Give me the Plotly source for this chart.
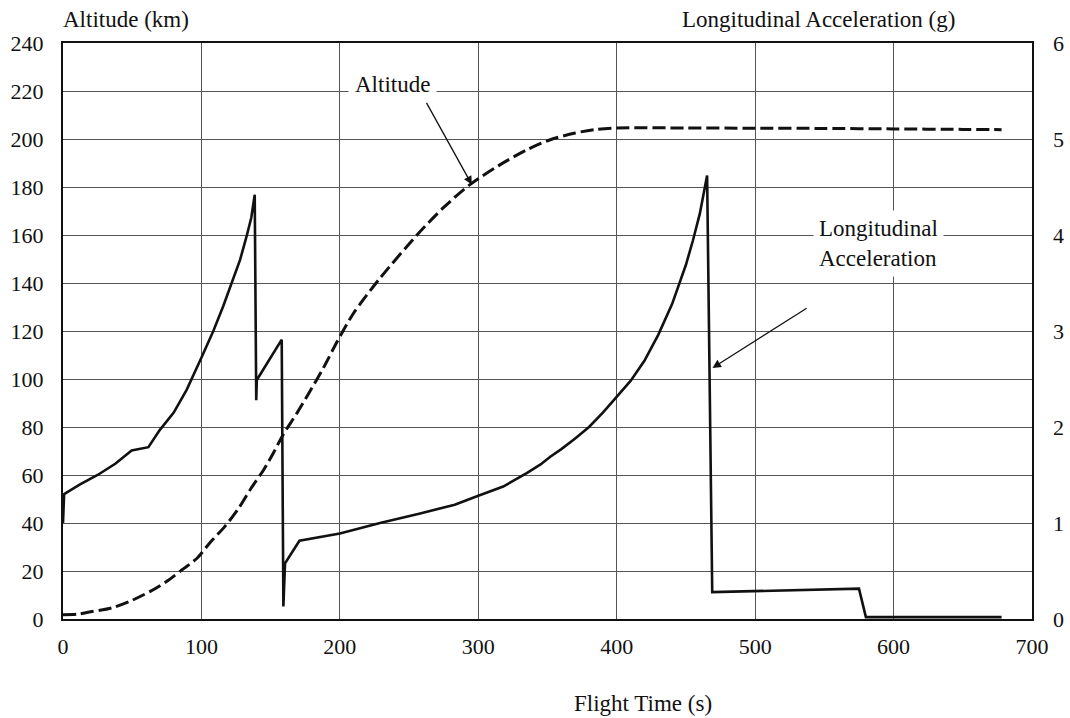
import plotly.graph_objects as go

# Altitude (km) vs flight time (s)
alt_t = [0, 10, 20, 35, 48, 63, 75, 86, 97, 106, 117, 127, 136, 145, 152, 159, 169, 178,
         188, 198, 210, 229, 257, 275, 294, 315, 335, 352, 370, 385, 400, 450, 500, 550,
         600, 650, 678]
alt_km = [1.8, 2.0, 3.0, 4.6, 7.3, 11.5, 15.7, 20.5, 25.4, 31.7, 38.6, 46.2, 54.6, 62.2,
          69.2, 76.8, 85.8, 94.5, 104.5, 115.5, 127.5, 142.0, 160.8, 171.5, 181.0, 189.0,
          195.5, 199.7, 202.5, 204.0, 204.6, 204.6, 204.5, 204.4, 204.2, 204.0, 203.9]

# Longitudinal acceleration (g) vs flight time (s)
acc_t = [0, 0.8, 12, 25, 38, 49.6, 61.7, 70, 80, 89.4, 100.2, 108.6, 115.8, 121.9, 127.9,
         132.7, 136, 138.5, 139.6, 140, 158, 159.2, 160.4, 170.8, 200, 229, 258, 283, 300,
         318, 335, 345, 352, 360, 370, 380, 390, 400, 410, 420, 430, 440, 446, 450, 455,
         460, 465.3, 469, 575, 580, 678]
acc_g = [1.0, 1.3, 1.40, 1.50, 1.62, 1.756, 1.79, 1.97, 2.15, 2.39, 2.73, 3.0, 3.26, 3.5,
         3.74, 3.99, 4.18, 4.42, 2.28, 2.49, 2.91, 0.13, 0.58, 0.815, 0.89, 1.0, 1.10,
         1.19, 1.284, 1.38, 1.52, 1.61, 1.69, 1.77, 1.88, 2.0, 2.15, 2.31, 2.48, 2.69,
         2.96, 3.28, 3.52, 3.69, 3.94, 4.22, 4.62, 0.28, 0.316, 0.02, 0.02]

x_ticks = [0, 100, 200, 300, 400, 500, 600, 700]
y_left_ticks = list(range(0, 241, 20))
y_right_ticks = [0, 1, 2, 3, 4, 5, 6]

FONT = "Liberation Serif, Times New Roman, serif"
INK = "#111111"
GRID = "#555555"

fig = go.Figure()
fig.add_trace(go.Scatter(x=alt_t, y=alt_km, mode="lines",
                         line=dict(color=INK, width=3, dash="13px,5px",
                                   shape="spline", smoothing=0.8),
                         yaxis="y", showlegend=False))
fig.add_trace(go.Scatter(x=acc_t, y=acc_g, mode="lines",
                         line=dict(color=INK, width=2.6),
                         yaxis="y2", showlegend=False))

fig.update_layout(
    width=1070, height=718,
    margin=dict(l=63, r=38, t=43, b=99, autoexpand=False),
    paper_bgcolor="white", plot_bgcolor="white",
    font=dict(family=FONT, size=22, color=INK),
    xaxis=dict(range=[0, 700], tickvals=x_ticks, showgrid=True, gridcolor=GRID,
               gridwidth=1, zeroline=False, showline=True, linecolor=INK, linewidth=2,
               mirror=True, ticks="", ticklabelstandoff=7, automargin=False),
    yaxis=dict(range=[0, 240], tickvals=y_left_ticks, showgrid=True, gridcolor=GRID,
               gridwidth=1, zeroline=False, showline=True, linecolor=INK, linewidth=2,
               mirror=True, ticks="", ticklabelstandoff=13, automargin=False),
    yaxis2=dict(range=[0, 6], tickvals=y_right_ticks, overlaying="y", side="right",
                showgrid=False, zeroline=False, showline=False, ticks="",
                ticklabelstandoff=20, automargin=False),
)

ann_font = dict(family=FONT, size=23, color=INK)
fig.add_annotation(xref="paper", yref="paper", x=-0.002, y=1.040, text="Altitude (km)",
                   showarrow=False, xanchor="left", yanchor="middle", font=ann_font)
fig.add_annotation(xref="paper", yref="paper", x=0.780, y=1.040,
                   text="Longitudinal Acceleration (g)",
                   showarrow=False, xanchor="center", yanchor="middle", font=ann_font)
fig.add_annotation(xref="paper", yref="paper", x=0.5986, y=-0.146, text="Flight Time (s)",
                   showarrow=False, xanchor="center", yanchor="middle", font=ann_font)

# Curve labels with white boxes
fig.add_annotation(x=237.7, y=222.6, xref="x", yref="y", text="Altitude",
                   showarrow=False, bgcolor="white", borderpad=6, font=ann_font)
fig.add_annotation(x=588.9, y=156.6, xref="x", yref="y",
                   text="Longitudinal<br>Acceleration", align="left",
                   showarrow=False, bgcolor="white", borderpad=5, font=ann_font)

# Leader arrows
fig.add_annotation(x=295.3, y=181.0, xref="x", yref="y", ax=262.0, ay=215.7,
                   axref="x", ayref="y", text="", showarrow=True, arrowhead=2,
                   arrowsize=1.3, arrowwidth=1.3, arrowcolor=INK, standoff=0)
fig.add_annotation(x=469.2, y=104.6, xref="x", yref="y", ax=538.3, ay=129.9,
                   axref="x", ayref="y", text="", showarrow=True, arrowhead=2,
                   arrowsize=1.3, arrowwidth=1.3, arrowcolor=INK, standoff=0)

fig.write_html("out.html")
